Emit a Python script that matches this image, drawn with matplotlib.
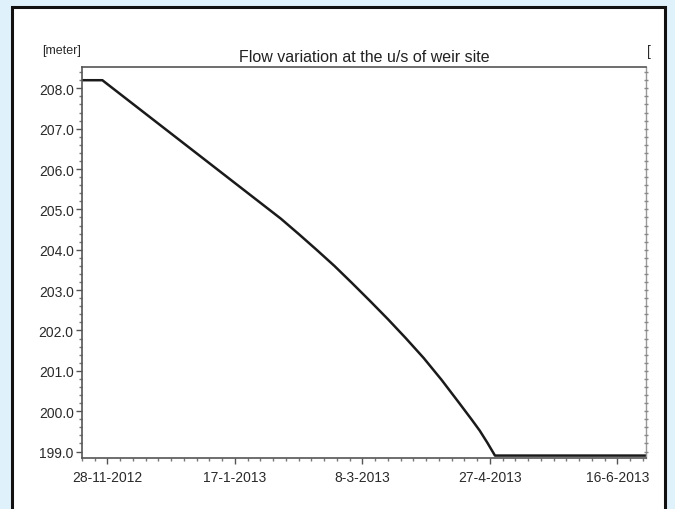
import matplotlib
matplotlib.use("Agg")
import matplotlib.pyplot as plt
import matplotlib.dates as mdates
from matplotlib.ticker import MultipleLocator, FixedLocator
from matplotlib.patches import Rectangle
import numpy as np
import datetime as dt

plt.rcParams['font.family'] = ['Liberation Sans Narrow', 'Liberation Sans', 'DejaVu Sans']

dates = ["2012-11-18", "2012-11-26", "2012-11-27", "2013-02-04", "2013-02-11",
         "2013-02-18", "2013-02-25", "2013-03-04", "2013-03-11", "2013-03-18",
         "2013-03-25", "2013-04-01", "2013-04-08", "2013-04-15", "2013-04-20",
         "2013-04-23", "2013-04-26", "2013-04-29", "2013-06-27"]
levels = [208.2, 208.2, 208.15, 204.77, 204.39,
          204.0, 203.6, 203.17, 202.73, 202.28,
          201.81, 201.32, 200.78, 200.2, 199.78,
          199.52, 199.22, 198.9, 198.9]
tick_dates = ["2012-11-28", "2013-01-17", "2013-03-08", "2013-04-27", "2013-06-16"]
tick_labels = ["28-11-2012", "17-1-2013", "8-3-2013", "27-4-2013", "16-6-2013"]
y_ticks = [199.0, 200.0, 201.0, 202.0, 203.0, 204.0, 205.0, 206.0, 207.0, 208.0]

x = [dt.datetime.strptime(d, "%Y-%m-%d") for d in dates]
xt = [dt.datetime.strptime(d, "%Y-%m-%d") for d in tick_dates]

fig = plt.figure(figsize=(6.75, 5.1), dpi=100)
fig.patch.set_facecolor('#dff1fb')
fig.patches.append(Rectangle((12/675, -0.05), (665-12)/675, 1.05 - 8/510,
                             transform=fig.transFigure, facecolor='white',
                             edgecolor='#111111', linewidth=2.2, zorder=-10))

ax = fig.add_axes([82/675, 1 - 459/510, (646-82)/675, (459-68.3)/510])
ax.set_zorder(5)
ax.set_facecolor('white')
ax.plot(x, levels, color='#1a1a1a', linewidth=1.8)

ax.set_xlim(dt.datetime(2012, 11, 18), dt.datetime(2013, 6, 27, 6))
ax.set_ylim(198.84, 208.52)

ax.xaxis.set_major_locator(FixedLocator(mdates.date2num(xt)))
ax.set_xticklabels(tick_labels)
minor_x = mdates.date2num(xt[0]) + np.arange(-10, 215, 5)
ax.xaxis.set_minor_locator(FixedLocator(minor_x))

ax.yaxis.set_major_locator(FixedLocator(y_ticks))
ax.set_yticklabels([f"{v:.1f}" for v in y_ticks])
ax.yaxis.set_minor_locator(MultipleLocator(0.2))

for s in ['left', 'bottom', 'top']:
    ax.spines[s].set_color('#555555')
    ax.spines[s].set_linewidth(1.2)
ax.spines['right'].set_color('#999999')
ax.spines['right'].set_linewidth(1.0)

ax.tick_params(axis='both', which='major', direction='out', length=4, width=1,
               color='#555555', labelsize=10, labelcolor='#2a2a2a', pad=2)
ax.tick_params(axis='both', which='minor', direction='out', length=2.5, width=1,
               color='#777777')
ax.tick_params(axis='x', which='major', pad=5)

# right-hand tick marks crossing the spine
ax2 = ax.twinx()
ax2.set_ylim(ax.get_ylim())
ax2.yaxis.set_major_locator(FixedLocator(y_ticks))
ax2.yaxis.set_minor_locator(MultipleLocator(0.2))
ax2.tick_params(axis='y', which='both', direction='inout', length=3, width=1,
                color='#888888', labelright=False)
for s in ax2.spines.values():
    s.set_visible(False)

fig.text(62/675, 1 - 51/510, "[meter]", ha='center', va='center', fontsize=9,
         color='#2a2a2a')
fig.text(364/675, 1 - 57/510, "Flow variation at the u/s of weir site", ha='center',
         va='center', fontsize=11.5, color='#222222')
fig.text(649/675, 1 - 52/510, "[", ha='center', va='center', fontsize=10,
         color='#2a2a2a')

fig.savefig("out.png", dpi=100, facecolor=fig.get_facecolor())
